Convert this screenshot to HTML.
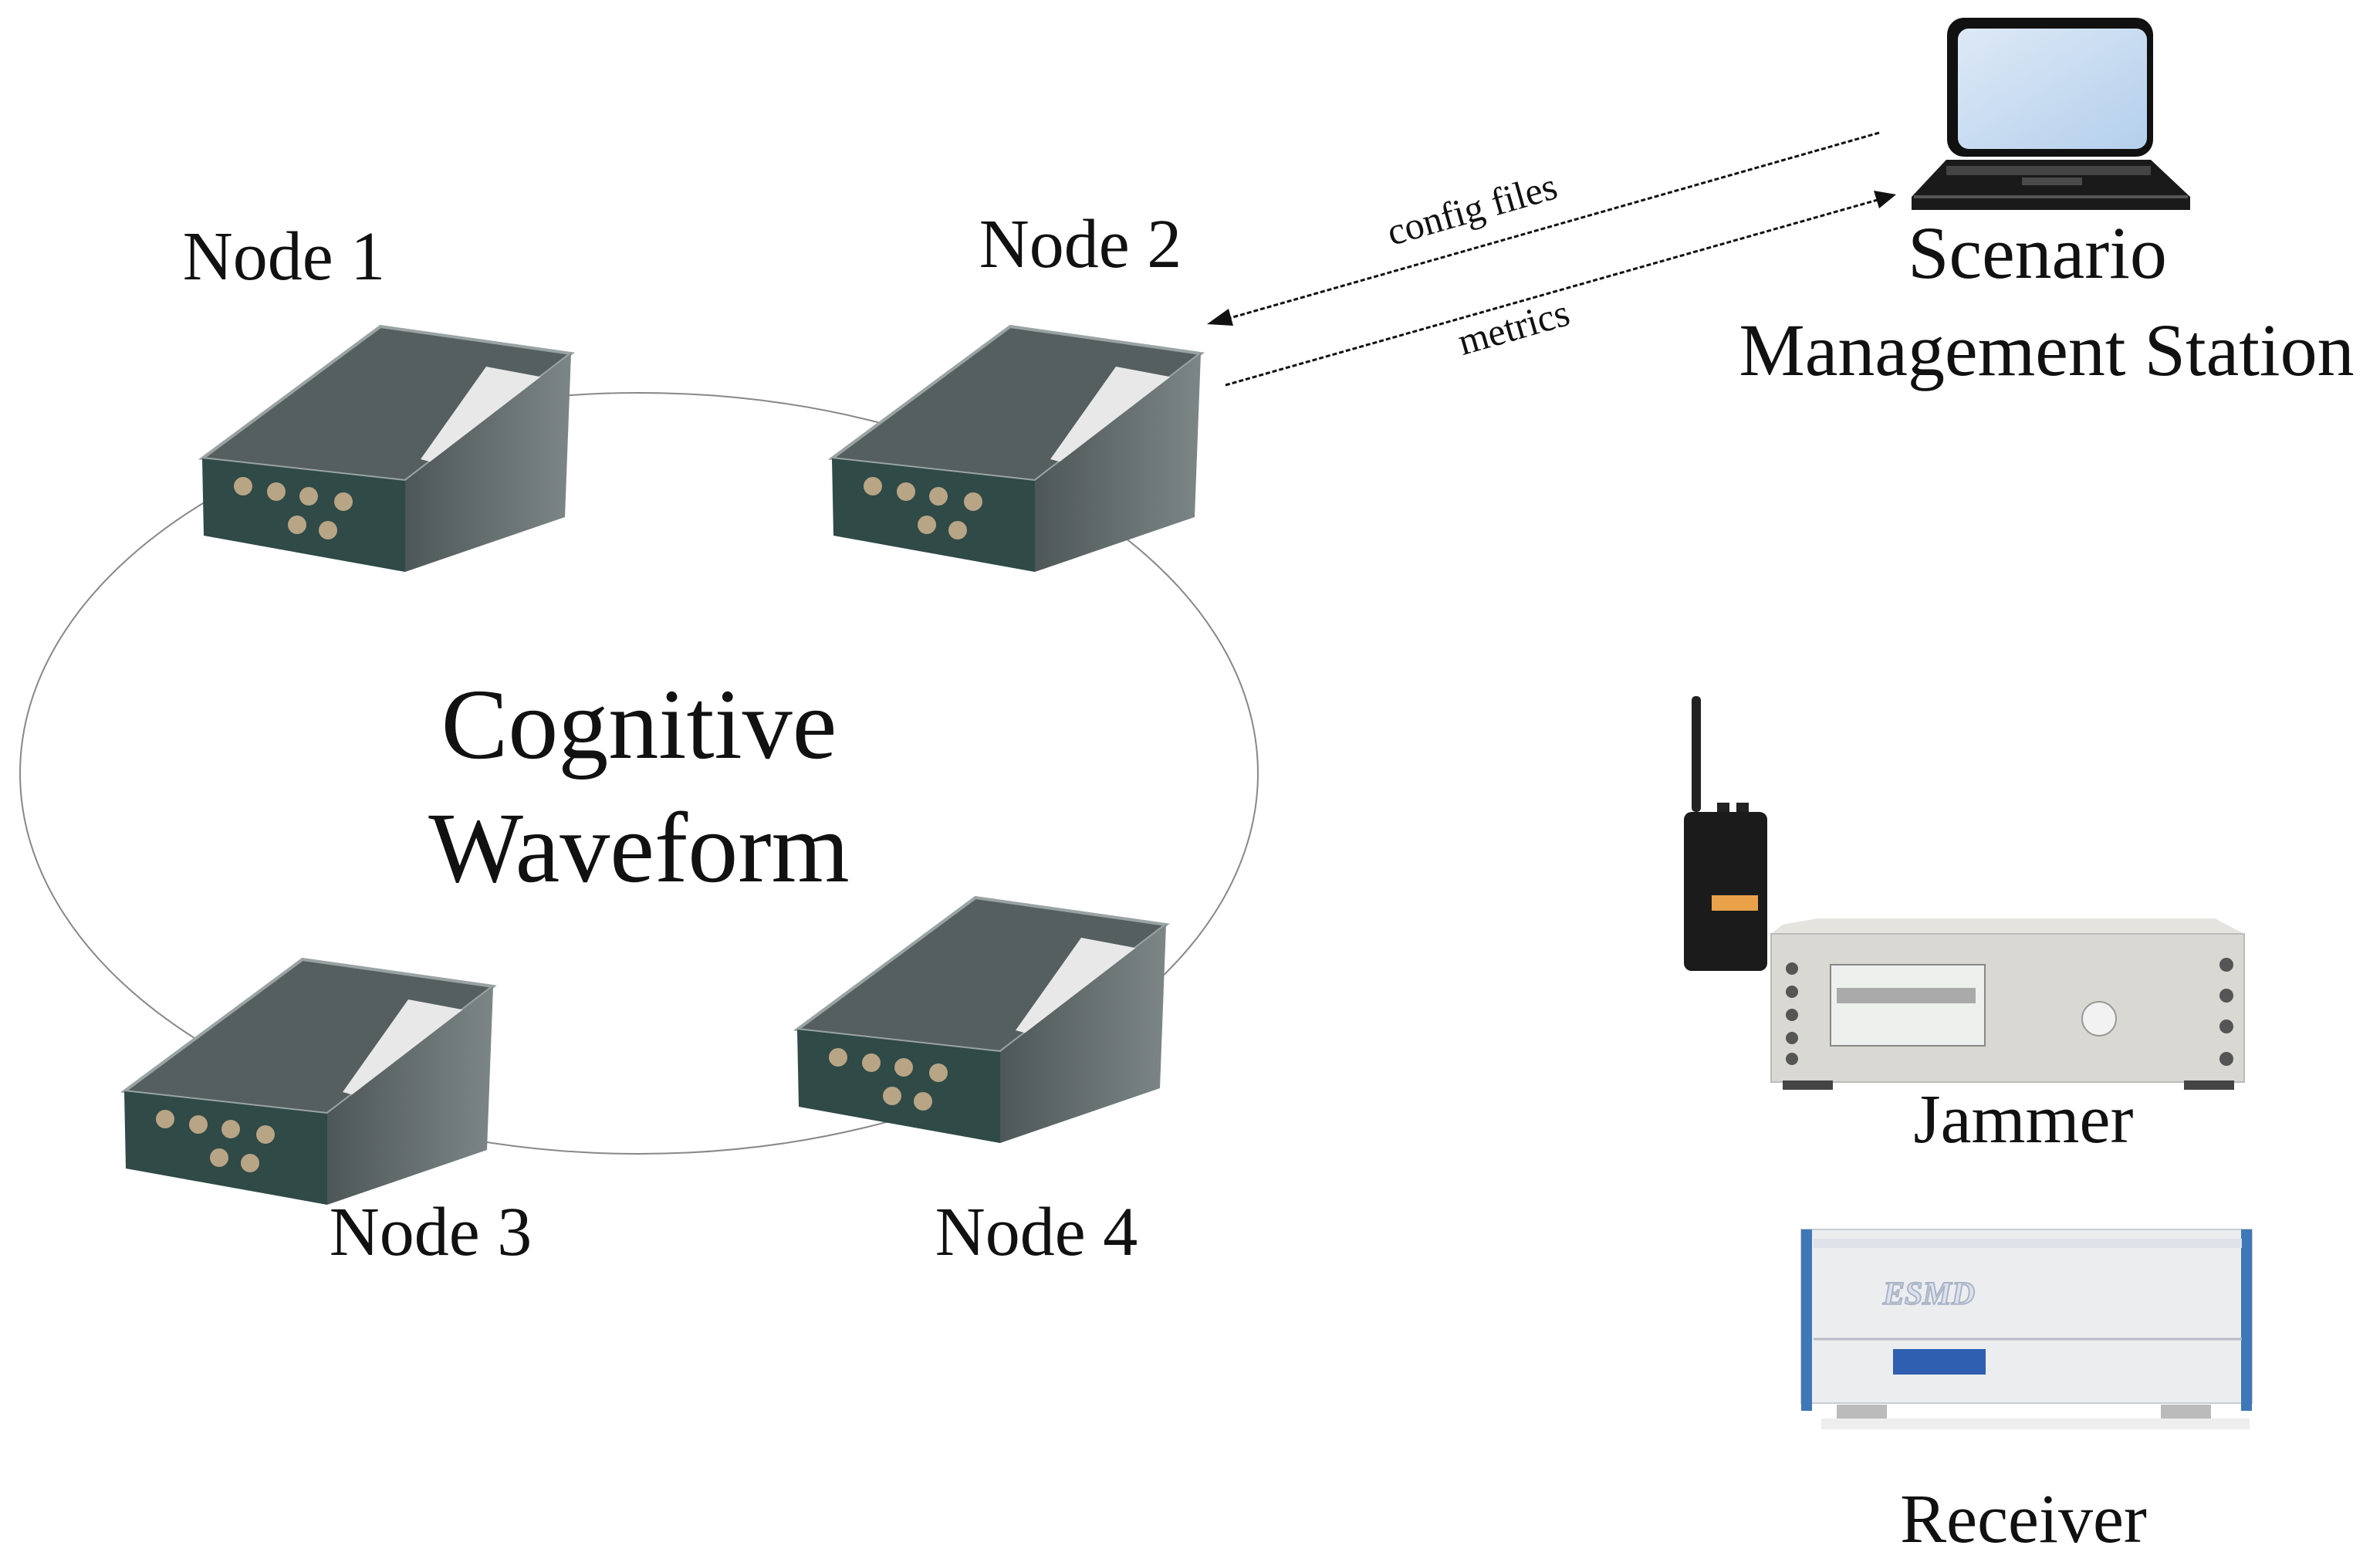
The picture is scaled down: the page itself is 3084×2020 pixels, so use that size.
<!DOCTYPE html>
<html><head><meta charset="utf-8"><style>
html,body{margin:0;padding:0;background:#fff;}
svg{display:block}
text{font-family:"Liberation Serif","DejaVu Serif",serif;fill:#111}
</style></head><body>
<svg width="3084" height="2020" viewBox="0 0 3084 2020" xmlns="http://www.w3.org/2000/svg">
<defs>
<linearGradient id="scr" x1="0" y1="0" x2="1" y2="1"><stop offset="0" stop-color="#dde9f6"/><stop offset="1" stop-color="#b4cfec"/></linearGradient>
<linearGradient id="side" x1="0" y1="0" x2="1" y2="0"><stop offset="0" stop-color="#4e5757"/><stop offset="1" stop-color="#7d8686"/></linearGradient>
<g id="dev">
  <polygon points="293,43 540,78 325,243 62,214" fill="#555f60"/>
  <polygon points="293,43 540,78 325,243 62,214" fill="none" stroke="#9aa3a3" stroke-width="4"/>
  <polygon points="430,95 510,110 420,235 345,215" fill="#e8e8e8"/>
  <polygon points="325,243 540,78 532,290 325,361" fill="url(#side)"/>
  <polygon points="62,214 325,243 325,361 64,314" fill="#2f4a47"/>
  <g fill="#b8a585">
    <circle cx="115" cy="250" r="12"/><circle cx="158" cy="257" r="12"/><circle cx="200" cy="263" r="12"/><circle cx="245" cy="270" r="12"/>
    <circle cx="185" cy="300" r="12"/><circle cx="225" cy="307" r="12"/>
  </g>
</g>
</defs>

<ellipse cx="828" cy="1002" rx="802" ry="493" fill="none" stroke="#888" stroke-width="2"/>

<use href="#dev" transform="translate(200,380)"/>
<use href="#dev" transform="translate(1016,380)"/>
<use href="#dev" transform="translate(99,1200)"/>
<use href="#dev" transform="translate(971,1120)"/>

<text x="368" y="362" font-size="90" text-anchor="middle">Node 1</text>
<text x="1400" y="346" font-size="90" text-anchor="middle">Node 2</text>
<text x="558" y="1626" font-size="90" text-anchor="middle">Node 3</text>
<text x="1343" y="1626" font-size="90" text-anchor="middle">Node 4</text>
<text x="828" y="982" font-size="130" text-anchor="middle">Cognitive</text>
<text x="828" y="1142" font-size="130" text-anchor="middle">Waveform</text>
<text x="2640" y="360" font-size="96" text-anchor="middle">Scenario</text>
<text x="2652" y="486" font-size="96" text-anchor="middle">Management Station</text>
<text x="2622" y="1480" font-size="90" text-anchor="middle">Jammer</text>
<text x="2622" y="1998" font-size="90" text-anchor="middle">Receiver</text>

<line x1="2435" y1="172" x2="1580" y2="416" stroke="#111" stroke-width="3" stroke-dasharray="6,3"/>
<polygon points="1564,420 1592,400 1598,422" fill="#111"/>
<line x1="1588" y1="499" x2="2440" y2="257" stroke="#111" stroke-width="3" stroke-dasharray="6,3"/>
<polygon points="2457,252 2428,247 2435,270" fill="#111"/>
<text x="1912" y="287" font-size="50" text-anchor="middle" transform="rotate(-16 1912 287)">config files</text>
<text x="1966" y="440" font-size="50" text-anchor="middle" transform="rotate(-16 1966 440)">metrics</text>

<rect x="2523" y="23" width="267" height="180" rx="22" fill="#111"/>
<rect x="2537" y="37" width="245" height="156" rx="14" fill="url(#scr)"/>
<polygon points="2522,207 2787,207 2838,255 2838,272 2477,272 2477,255" fill="#1a1a1a"/>
<rect x="2522" y="215" width="265" height="12" fill="#444"/>
<rect x="2620" y="230" width="78" height="10" fill="#4a4a4a"/>
<rect x="2480" y="253" width="355" height="4" fill="#555"/>

<rect x="2192" y="902" width="12" height="150" rx="5" fill="#222"/>
<rect x="2225" y="1040" width="16" height="25" fill="#222"/>
<rect x="2250" y="1040" width="16" height="25" fill="#222"/>
<rect x="2182" y="1052" width="108" height="206" rx="10" fill="#1b1b1b"/>
<rect x="2218" y="1160" width="60" height="20" fill="#e9a24a"/>

<polygon points="2310,1198 2355,1190 2870,1190 2908,1210 2908,1400 2295,1400 2295,1210" fill="#e4e3de"/>
<rect x="2295" y="1210" width="613" height="192" fill="#d9d8d2" stroke="#bbb" stroke-width="2"/>
<rect x="2372" y="1250" width="200" height="105" fill="#eef0ee" stroke="#888" stroke-width="2"/>
<rect x="2380" y="1280" width="180" height="20" fill="#aaa"/>
<circle cx="2720" cy="1320" r="22" fill="#f2f2f2" stroke="#999" stroke-width="2"/>
<g fill="#555"><circle cx="2322" cy="1255" r="8"/><circle cx="2322" cy="1285" r="8"/><circle cx="2322" cy="1315" r="8"/><circle cx="2322" cy="1345" r="8"/><circle cx="2322" cy="1372" r="8"/><circle cx="2885" cy="1250" r="9"/><circle cx="2885" cy="1290" r="9"/><circle cx="2885" cy="1330" r="9"/><circle cx="2885" cy="1372" r="9"/></g>
<rect x="2310" y="1400" width="65" height="12" fill="#444"/><rect x="2830" y="1400" width="65" height="12" fill="#444"/>

<rect x="2334" y="1593" width="584" height="225" fill="#ecedef" stroke="#c9cbd0" stroke-width="2"/>
<rect x="2334" y="1593" width="14" height="235" fill="#3f78b8"/>
<rect x="2904" y="1593" width="14" height="235" fill="#3f78b8"/>
<rect x="2350" y="1605" width="555" height="12" fill="#dfe2e8"/>
<line x1="2350" y1="1735" x2="2905" y2="1735" stroke="#b8bcc4" stroke-width="3"/>
<text x="2440" y="1690" font-size="42" font-style="italic" font-weight="bold" style="fill:#dde3ee;stroke:#aab4c6;stroke-width:2">ESMD</text>
<rect x="2453" y="1748" width="120" height="33" fill="#2f5fb0"/>
<rect x="2380" y="1820" width="65" height="20" fill="#bbb"/><rect x="2800" y="1820" width="65" height="20" fill="#bbb"/>
<rect x="2360" y="1838" width="555" height="14" fill="#eeeeee"/>
</svg>
</body></html>
